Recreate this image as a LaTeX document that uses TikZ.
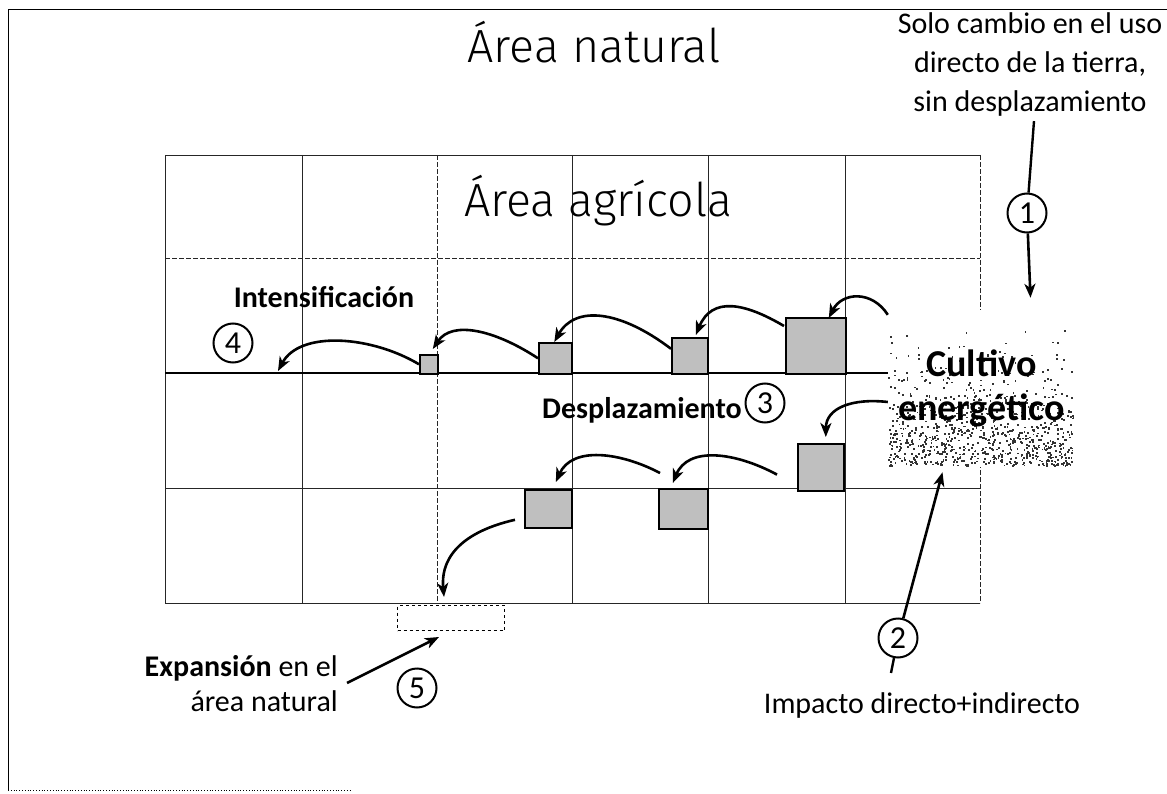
\documentclass[tikz,border=0pt]{standalone}
\usepackage{fontspec}
\setmainfont{Carlito}
\IfFontExistsTF{Fira Sans Light}{\newfontfamily\lightfont{Fira Sans Light}\def\titlesize{46.5}}{\newfontfamily\lightfont{Carlito}\def\titlesize{50}}
\usetikzlibrary{arrows.meta,calc}
\begin{document}
\begin{tikzpicture}[x=1pt,y=-1pt,
  gridline/.style={line width=0.9pt, black!85},
  griddash/.style={gridline, dash pattern=on 5pt off 2pt},
  arr/.style={line width=2.6pt, -{Stealth[length=14pt,width=11pt,inset=4pt]}},
  plain/.style={line width=2.4pt},
  crop/.style={draw=black, line width=1.6pt, fill=black!25, inner sep=0pt, anchor=north west},
  num/.style={draw, circle, line width=2pt, minimum size=39pt, inner sep=0pt, fill=white, font=\fontsize{32}{36}\selectfont},
  title/.style={inner sep=0pt, anchor=base, font=\lightfont\fontsize{\titlesize}{60}\selectfont},
  lbl/.style={inner sep=0pt, font=\fontsize{30}{39}\selectfont},
  blbl/.style={inner sep=0pt, anchor=base, font=\bfseries\fontsize{30}{36}\selectfont}
]
\useasboundingbox (0,0) rectangle (1167,794);
% outer frame
\draw[line width=1pt] (8,790) -- (8,10) -- (1167,10);
\draw[line width=0.8pt, dotted] (8,790) -- (350,790);

% grid
\foreach \x in {302,572,708,845} \draw[gridline] (\x,155) -- (\x,603);
\draw[gridline] (165,155) -- (165,603);
\draw[griddash] (437,155) -- (437,603);
\draw[griddash] (980,155) -- (980,603);
\draw[gridline] (165,155) -- (980,155);
\draw[griddash] (165,258) -- (980,258);
\draw[gridline] (165,488) -- (980,488);
\draw[gridline] (165,603) -- (980,603);
\draw[line width=1.6pt] (165,373) -- (888,373);

% titles
\node[title] (natural) at (594,63) {Área natural};
\node[title] (agricola) at (598,217) {Área agrícola};

% top right text
\node[lbl, align=center, anchor=north] (t1) at (1030,12) {Solo cambio en el uso\\directo de la tierra,\\sin desplazamiento};

% energy crop: speckled patch
\fill[white] (888,310) rectangle (1075,467);
\pgfmathsetseed{11}
\foreach \i in {1,...,900}{
  \pgfmathsetmacro\rx{888+185*rnd}
  \pgfmathsetmacro\ry{308+157*(rnd^0.3)}
  \fill[black!80] (\rx,\ry) rectangle ++(1.8,1.8);
}
\node[inner sep=0pt, minimum width=187pt, minimum height=157pt,
      align=center, font=\bfseries\fontsize{38}{44}\selectfont] (cult) at (981.5,388.5) {Cultivo\\energético};

% crop boxes
\node[crop, minimum width=60pt, minimum height=56pt] (boxA) at (785,317) {};
\node[crop, minimum width=36pt, minimum height=36pt] (boxB) at (671,337) {};
\node[crop, minimum width=33pt, minimum height=31pt] (boxC) at (538,342) {};
\node[crop, minimum width=18pt, minimum height=19pt] (boxD) at (419,354) {};
\node[crop, minimum width=46pt, minimum height=47pt] (boxE) at (797,443) {};
\node[crop, minimum width=49pt, minimum height=40pt] (boxF) at (658,488) {};
\node[crop, minimum width=47pt, minimum height=38pt] (boxG) at (524,489) {};
\node[draw, dashed, line width=1pt, inner sep=0pt, anchor=north west, minimum width=107pt, minimum height=25pt] (exp) at (397,605) {};

% labels
\node[blbl] (intens) at (324,308) {Intensificación};
\node[blbl] (despl) at (642,418) {Desplazamiento};
\node[lbl, align=right, anchor=north east, font=\fontsize{30}{35}\selectfont] (t5) at (338,655) {\textbf{Expansión} en el\\área natural};
\node[lbl, anchor=base] (t2) at (922,713) {Impacto directo+indirecto};

% numbered circles
\node[num] (c1) at (1027,213) {1};
\node[num] (c2) at (898,638) {2};
\node[num] (c3) at (765,403) {3};
\node[num] (c4) at (233,343) {4};
\node[num] (c5) at (417,688) {5};

% connectors for circles
\draw[plain] ($(t1.south)+(4,5)$) -- (c1);
\draw[arr] (c1) -- ($(cult.north)+(49,-12)$);
\draw[arr] (c2) -- ($(cult.south)+(-39,5)$);
\draw[plain] (c2) -- ($(t2.north)+(-31,-19)$);
\draw[arr] ($(t5.north east)+(9,28)$) -- ($(exp.south)+(-12,6)$);

% intensification arrows
\coordinate (base4) at (278,371);
\draw[arr] ($(cult.north west)+(0,5)$) .. controls (872,290) and (842,292) .. ($(boxA.north)+(13,1)$);
\draw[arr] ($(boxA.north west)+(-1,9)$) .. controls (745,303) and (712,296) .. ($(boxB.north)+(6,-2)$);
\draw[arr] ($(boxB.west)+(0,-7)$) .. controls (620,310) and (575,305) .. ($(boxC.north)+(-1,0)$);
\draw[arr] (boxC.west) .. controls (495,330) and (452,320) .. ($(boxD.north)+(4,-5)$);
\draw[arr] (boxD.west) .. controls (372,336) and (300,330) .. (base4);

% displacement arrows
\draw[arr] ($(cult.west)+(0,13.5)$) .. controls (852,398) and (826,408) .. ($(boxE.north)+(5,-6)$);
\draw[arr] ($(boxE.south west)+(-20,-17)$) .. controls (735,452) and (688,446) .. ($(boxF.north)+(-10.5,-5)$);
\draw[arr] ($(boxF.north west)+(2,-15)$) .. controls (620,452) and (572,446) .. ($(boxG.north)+(7.5,-7)$);
\draw[arr] ($(boxG.west)+(-9,11)$) .. controls (470,530) and (440,552) .. ($(exp.north)+(-7,-8)$);
\end{tikzpicture}
\end{document}
